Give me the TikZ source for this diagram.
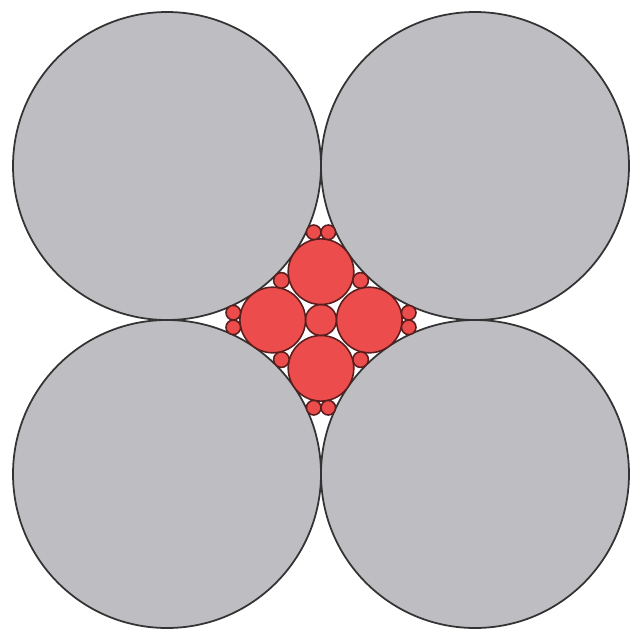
\documentclass[tikz,border=0pt]{standalone}
\usepackage{xcolor}
\definecolor{discgray}{RGB}{190,190,194}
\definecolor{discred}{RGB}{236,76,76}
\definecolor{rimred}{RGB}{90,30,30}

\begin{document}
\begin{tikzpicture}[
        x=0.01cm, y=-0.01cm,
        bigdisc/.style={draw=black!80, fill=discgray, line width=0.5pt},
        reddisc/.style={draw=rimred, fill=discred, line width=0.45pt},
    ]
        \useasboundingbox (0,0) rectangle (629,633);

        % Large discs
        \draw[bigdisc] (167,166) circle[radius=154];
        \draw[bigdisc] (475,166) circle[radius=154];
        \draw[bigdisc] (167,474) circle[radius=154];
        \draw[bigdisc] (475,474) circle[radius=154];

        % Red discs in the gap
        \begin{scope}[shift={(321,320)}]
            \draw[reddisc] (0,0) circle[radius=15.5];
            \foreach \a in {0,90,180,270} {
                \draw[reddisc] (\a:48.3) circle[radius=32.8];
                \draw[reddisc] (\a+45:56) circle[radius=7.8];
                \draw[reddisc] (\a:87.7) ++(\a+90:7.3) circle[radius=7.3];
                \draw[reddisc] (\a:87.7) ++(\a-90:7.3) circle[radius=7.3];
            }
        \end{scope}
    \end{tikzpicture}
\end{document}
